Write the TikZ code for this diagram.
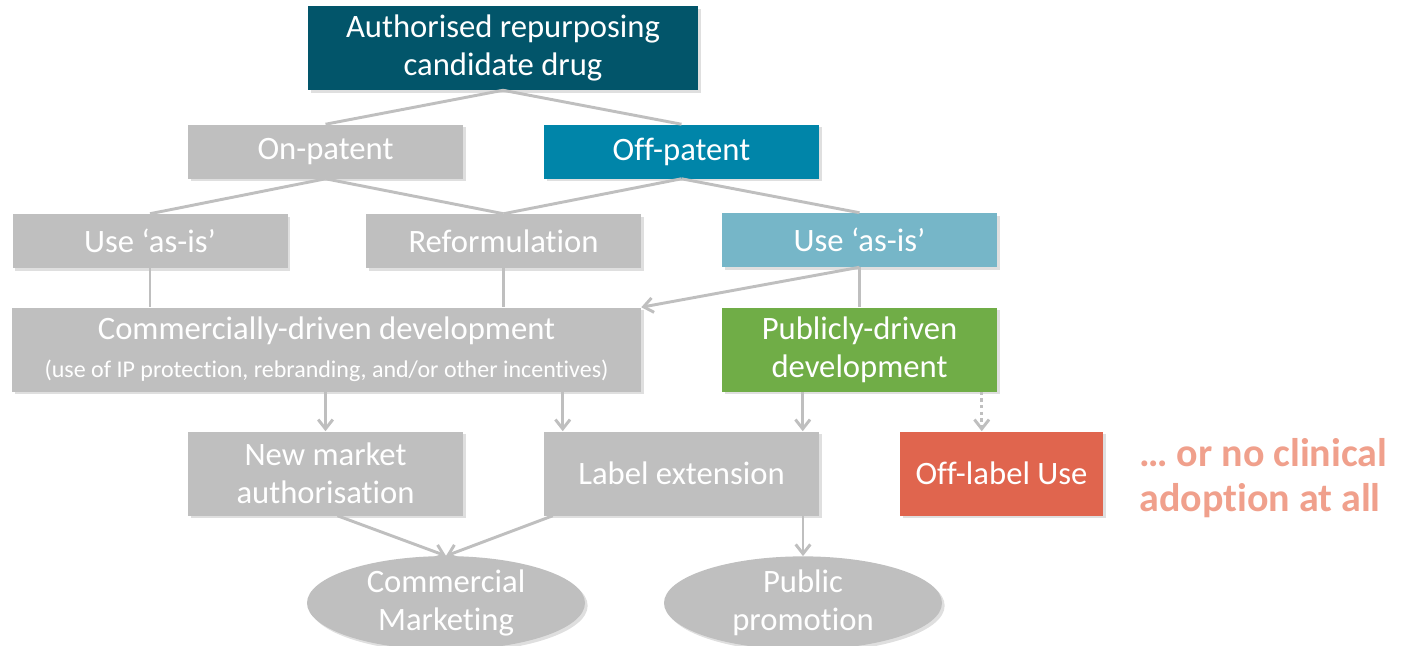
\documentclass[tikz,border=0pt]{standalone}
\usepackage{fontspec}
\setmainfont{Carlito}[Ligatures=NoCommon]
\usetikzlibrary{shapes.geometric,arrows.meta,shadows,calc}
\definecolor{drugteal}{HTML}{02556A}
\definecolor{offblue}{HTML}{0085A9}
\definecolor{asisblue}{HTML}{76B6C8}
\definecolor{pubgreen}{HTML}{70AD47}
\definecolor{offred}{HTML}{E0654E}
\definecolor{lightgrey}{HTML}{BFBFBF}
\definecolor{salmon}{HTML}{F0A08C}
\begin{document}
\begin{tikzpicture}[x=0.75pt,y=-0.75pt,
    box/.style={rectangle,fill=lightgrey,text=white,align=center,inner sep=0pt,
      minimum width=206.25pt,minimum height=40.5pt,
      font=\fontsize{24.5}{28.5}\selectfont,
      drop shadow={opacity=0.25,shadow xshift=2pt,shadow yshift=-2pt}},
    tall/.style={minimum height=63pt},
    oval/.style={box,ellipse,minimum width=208.5pt,minimum height=67.5pt},
    link/.style={draw=lightgrey,line width=2.2pt},
    arrow/.style={link,-{Straight Barb[length=7pt,width=11pt]}}]
  \useasboundingbox (0,0) rectangle (1403,646);
  \node[box,tall,fill=drugteal,minimum width=292.5pt] (drug) at (503,48) {Authorised repurposing\\candidate drug};
  \node[box] (onpat) at (325.5,151.5) {On-patent};
  \node[box,fill=offblue] (offpat) at (681.5,151.5) {Off-patent};
  \node[box] (useL) at (150,241) {Use ‘as-is’};
  \node[box] (reform) at (503.5,241) {Reformulation};
  \node[box,fill=asisblue] (useR) at (859.5,240) {Use ‘as-is’};
  \node[box,tall,minimum width=471.75pt] (comm) at (326.5,349.5)
    {Commercially-driven development\\{\fontsize{18}{22}\selectfont(use of IP protection, rebranding, and/or other incentives)}};
  \node[box,tall,fill=pubgreen] (publ) at (859.5,349.5) {Publicly-driven\\development};
  \node[box,tall] (newmkt) at (325.5,473.5) {New market\\authorisation};
  \node[box,tall] (labext) at (681.5,473.5) {Label extension};
  \node[box,tall,fill=offred,minimum width=152.25pt] (offlab) at (1001.5,473.5) {Off-label Use};
  \node[oval] (cmkt) at (446,603) {Commercial\\Marketing};
  \node[oval] (ppromo) at (803,603) {Public\\promotion};
  \node[text=salmon,font=\bfseries\fontsize{30}{34}\selectfont,align=left,anchor=west,inner sep=0pt]
    (noadopt) at (1139,478) {… or no clinical\\adoption at all};
  \draw[link] (drug.south) -- (onpat.north);
  \draw[link] (drug.south) -- (offpat.north);
  \draw[link] (onpat.south) -- (useL.north);
  \draw[link] (onpat.south) -- (reform.north);
  \draw[link] (offpat.south) -- (reform.north);
  \draw[link] (offpat.south) -- (useR.north);
  \draw[link] (useL.south) -- (useL.south |- comm.north);
  \draw[link] (reform.south) -- (reform.south |- comm.north);
  \draw[arrow] (useR.south) -- (comm.north east);
  \draw[link] (useR.south) -- (publ.north);
  \coordinate (lx) at ($(labext.north west)+(19,0)$);
  \coordinate (px) at ($(publ.south west)+(81,0)$);
  \coordinate (ox) at ($(publ.south west)+(260,0)$);
  \draw[arrow] (newmkt.north |- comm.south) -- (newmkt.north);
  \draw[arrow] (lx |- comm.south) -- (lx);
  \draw[arrow] (px) -- (px |- labext.north);
  \draw[arrow,dash pattern=on 2.5pt off 2.5pt] (ox) -- (ox |- offlab.north);
  \draw[arrow] ($(newmkt.south)+(12,0)$) -- (cmkt.north);
  \draw[arrow] ($(labext.south west)+(9,0)$) -- (cmkt.north);
  \draw[arrow] (ppromo.north |- labext.south) -- (ppromo.north);
\end{tikzpicture}
\end{document}
